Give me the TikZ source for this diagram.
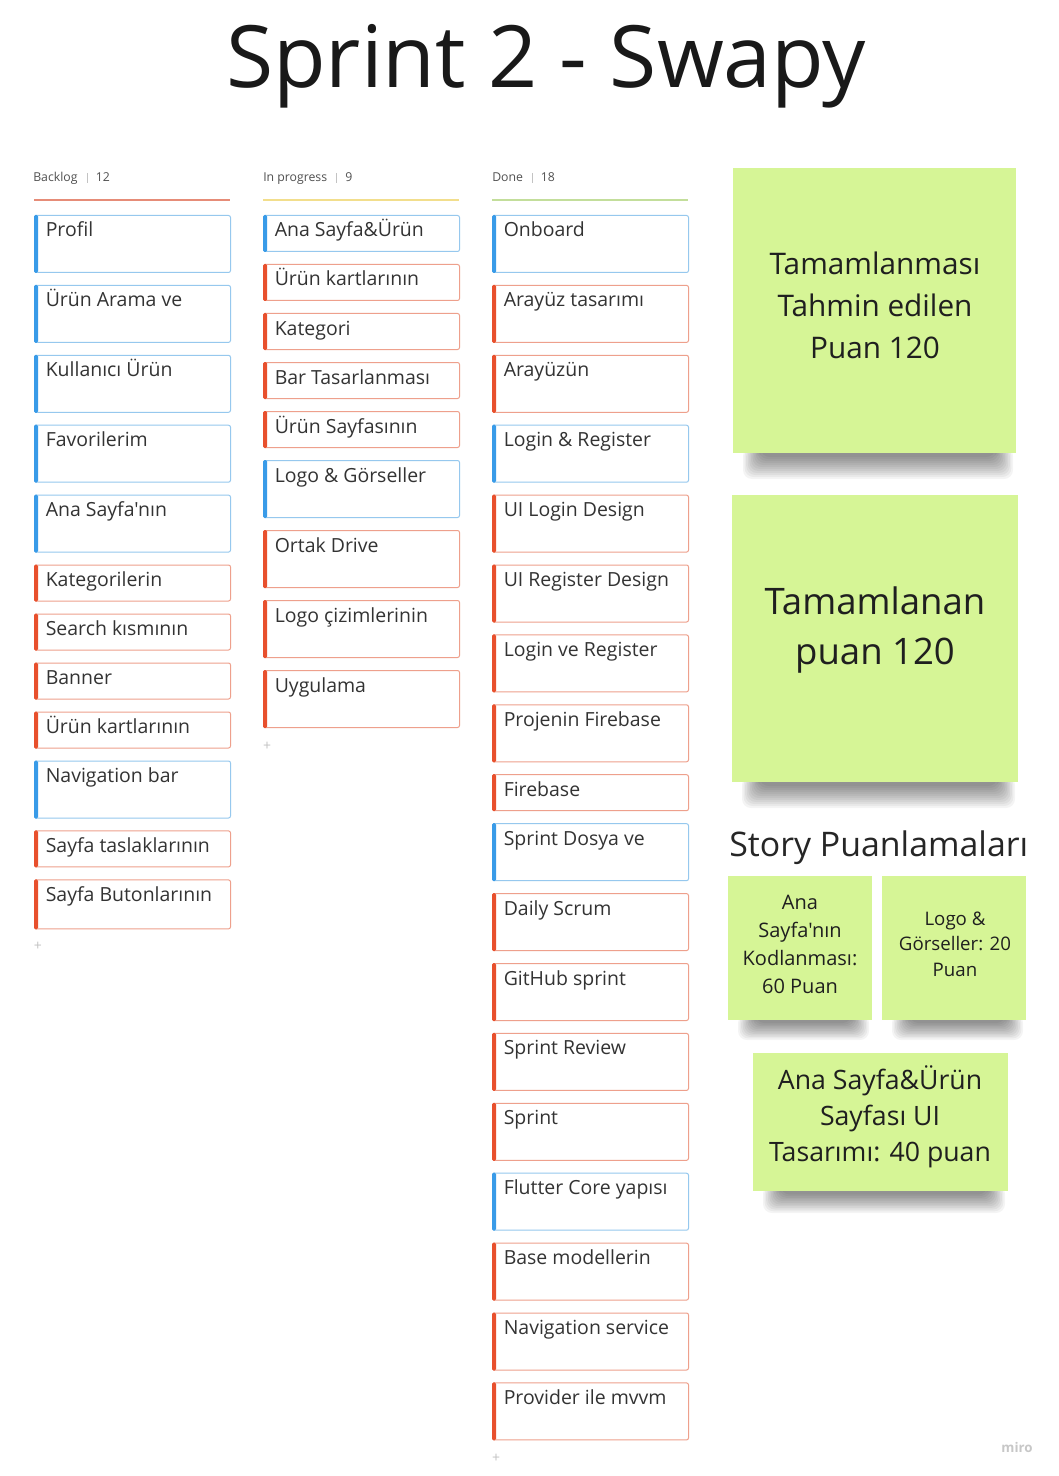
\documentclass[tikz,border=0pt]{standalone}
\usepackage{fontspec}
\setmainfont{Open Sans}[Ligatures=TeXOff]
\newdimen\pxu \pxu=0.75pt
\definecolor{bbar}{RGB}{57,155,232}
\definecolor{bline}{RGB}{150,200,238}
\definecolor{rbar}{RGB}{232,80,45}
\definecolor{rline}{RGB}{238,160,140}
\definecolor{stickyc}{RGB}{214,245,150}
\definecolor{txt}{RGB}{51,51,51}
\definecolor{hdr}{RGB}{80,80,80}
\definecolor{faint}{RGB}{195,195,195}
\definecolor{lred}{RGB}{230,140,120}
\definecolor{lyel}{RGB}{242,222,140}
\definecolor{lgrn}{RGB}{195,222,155}
\tikzset{
 cardbox/.style={rectangle, rounded corners=2\pxu, line width=1\pxu, fill=white, minimum width=196\pxu, inner sep=0pt, anchor=north west},
 cardtext/.style={inner sep=0pt, text=txt, font=\fontsize{14.6}{17}\selectfont},
 hdrtext/.style={inner sep=0pt, text=hdr, font=\fontsize{9.2}{11}\selectfont, anchor=base west},
 colline/.style={line width=2\pxu},
 sticky/.style={rectangle, fill=stickyc, inner sep=0pt, anchor=north west},
 stickytext/.style={inner sep=0pt, align=center, text=black!88},
 shadowlayer/.style={fill=black, opacity=0.045, rounded corners=9\pxu},
 plus/.style={inner sep=0pt, text=faint, font=\fontsize{10.5}{12}\selectfont},
}
\newcommand{\mkcard}[6]{%
 \node[cardbox, draw=#5line, minimum height=#4\pxu] (#1) at (#2,#3) {};
 \fill[#5bar, rounded corners=1.5\pxu] (#1.north west) rectangle ([xshift=4\pxu]#1.south west);
 \node[cardtext, anchor=base west] (#1t) at ([xshift=11.5\pxu,yshift=-22\pxu]#1.north west) {#6};
}
% shadow under a sticky: #1 left x, #2 right x, #3 bottom y, #4 depth
\newcommand{\mkshadow}[4]{%
 \foreach \i in {0,...,11}{%
  \path[shadowlayer] ({#1+10+\i*1.6},{#3-6}) rectangle ({#2-3-\i*1.6},{#3+#4-\i*(#4/13)});
 }%
}
\begin{document}
\begin{tikzpicture}[x=0.75pt,y=-0.75pt]
\useasboundingbox (0,0) rectangle (1058,1476);
\fill[white] (0,0) rectangle (1058,1476);

\node[font=\fontsize{64.5}{70}\selectfont, text=black!90, anchor=base, inner sep=0pt] (title) at (546,88) {Sprint 2 - Swapy};

% headers
\node[hdrtext] (h1) at (33,182) {Backlog};
\draw[faint, line width=0.8\pxu] (87,173) -- (87,183);
\node[hdrtext] (h1n) at (95.5,182) {12};
\node[hdrtext] (h2) at (263,182) {In progress};
\draw[faint, line width=0.8\pxu] (336,173) -- (336,183);
\node[hdrtext] (h2n) at (345,182) {9};
\node[hdrtext] (h3) at (492,182) {Done};
\draw[faint, line width=0.8\pxu] (532,173) -- (532,183);
\node[hdrtext] (h3n) at (540.5,182) {18};
\draw[colline, lred] (34,200) -- (230,200);
\draw[colline, lyel] (263,200) -- (459,200);
\draw[colline, lgrn] (492,200) -- (688,200);

% backlog
\mkcard{a1}{34}{215}{57}{b}{Profil}
\mkcard{a2}{34}{284.9}{57}{b}{Ürün Arama ve}
\mkcard{a3}{34}{354.8}{57}{b}{Kullanıcı Ürün}
\mkcard{a4}{34}{424.7}{57}{b}{Favorilerim}
\mkcard{a5}{34}{494.6}{57}{b}{Ana Sayfa'nın}
\mkcard{a6}{34}{564.5}{36}{r}{Kategorilerin}
\mkcard{a7}{34}{613.5}{36}{r}{Search kısmının}
\mkcard{a8}{34}{662.5}{36}{r}{Banner}
\mkcard{a9}{34}{711.5}{36}{r}{Ürün kartlarının}
\mkcard{a10}{34}{760.5}{57}{b}{Navigation bar}
\mkcard{a11}{34}{830.4}{36}{r}{Sayfa taslaklarının}
\mkcard{a12}{34}{879.4}{49}{r}{Sayfa Butonlarının}
\node[plus] (p1) at (38,946) {+};

% in progress
\mkcard{b1}{263}{215}{36}{b}{Ana Sayfa\&Ürün}
\mkcard{b2}{263}{264}{36}{r}{Ürün kartlarının}
\mkcard{b3}{263}{313}{36}{r}{Kategori}
\mkcard{b4}{263}{362}{36}{r}{Bar Tasarlanması}
\mkcard{b5}{263}{411}{36}{r}{Ürün Sayfasının}
\mkcard{b6}{263}{460}{57}{b}{Logo \& Görseller}
\mkcard{b7}{263}{530}{57}{r}{Ortak Drive}
\mkcard{b8}{263}{600}{57}{r}{Logo çizimlerinin}
\mkcard{b9}{263}{670}{57}{r}{Uygulama}
\node[plus] (p2) at (267,746) {+};

% done
\mkcard{c1}{492}{215}{57}{b}{Onboard}
\mkcard{c2}{492}{284.9}{57}{r}{Arayüz tasarımı}
\mkcard{c3}{492}{354.8}{57}{r}{Arayüzün}
\mkcard{c4}{492}{424.7}{57}{b}{Login \& Register}
\mkcard{c5}{492}{494.6}{57}{r}{UI Login Design}
\mkcard{c6}{492}{564.5}{57}{r}{UI Register Design}
\mkcard{c7}{492}{634.4}{57}{r}{Login ve Register}
\mkcard{c8}{492}{704.3}{57}{r}{Projenin Firebase}
\mkcard{c9}{492}{774.2}{36}{r}{Firebase}
\mkcard{c10}{492}{823.2}{57}{b}{Sprint Dosya ve}
\mkcard{c11}{492}{893.1}{57}{r}{Daily Scrum}
\mkcard{c12}{492}{963}{57}{r}{GitHub sprint}
\mkcard{c13}{492}{1032.9}{57}{r}{Sprint Review}
\mkcard{c14}{492}{1102.8}{57}{r}{Sprint}
\mkcard{c15}{492}{1172.7}{57}{b}{Flutter Core yapısı}
\mkcard{c16}{492}{1242.6}{57}{r}{Base modellerin}
\mkcard{c17}{492}{1312.5}{57}{r}{Navigation service}
\mkcard{c18}{492}{1382.4}{57}{r}{Provider ile mvvm}
\node[plus] (p3) at (496,1458) {+};

% sticky notes
\mkshadow{733}{1016}{453}{26}
\node[sticky, minimum width=283\pxu, minimum height=285\pxu] (s1) at (733,168) {};
\node[stickytext, font=\fontsize{22.3}{31.5}\selectfont] (s1t) at (875,305) {Tamamlanması\\Tahmin edilen\\Puan 120};

\mkshadow{732}{1018}{782}{26}
\node[sticky, minimum width=286\pxu, minimum height=287\pxu] (s2) at (732,495) {};
\node[stickytext, font=\fontsize{27.4}{37.5}\selectfont] (s2t) at (875,630) {Tamamlanan\\puan 120};

\node[font=\fontsize{25.4}{30}\selectfont, anchor=base west, text=black!85, inner sep=0pt] (story) at (729,856) {Story Puanlamaları};

\mkshadow{728}{872}{1020}{20}
\node[sticky, minimum width=144\pxu, minimum height=144\pxu] (s3) at (728,876) {};
\node[stickytext, font=\fontsize{15}{21}\selectfont] (s3t) at (800,944) {Ana\\Sayfa'nın\\Kodlanması:\\60 Puan};

\mkshadow{882}{1026}{1020}{20}
\node[sticky, minimum width=144\pxu, minimum height=144\pxu] (s4) at (882,876) {};
\node[stickytext, font=\fontsize{14}{19}\selectfont] (s4t) at (955,944) {Logo \&\\Görseller: 20\\Puan};

\mkshadow{753}{1008}{1191}{22}
\node[sticky, minimum width=255\pxu, minimum height=138\pxu] (s5) at (753,1053) {};
\node[stickytext, font=\fontsize{20}{27}\selectfont] (s5t) at (880,1117) {Ana Sayfa\&Ürün\\Sayfası UI\\Tasarımı: 40 puan};

\node[font=\fontsize{10}{12}\selectfont\bfseries, text=black!22, inner sep=0pt] (miro) at (1017,1447) {miro};
\end{tikzpicture}
\end{document}
